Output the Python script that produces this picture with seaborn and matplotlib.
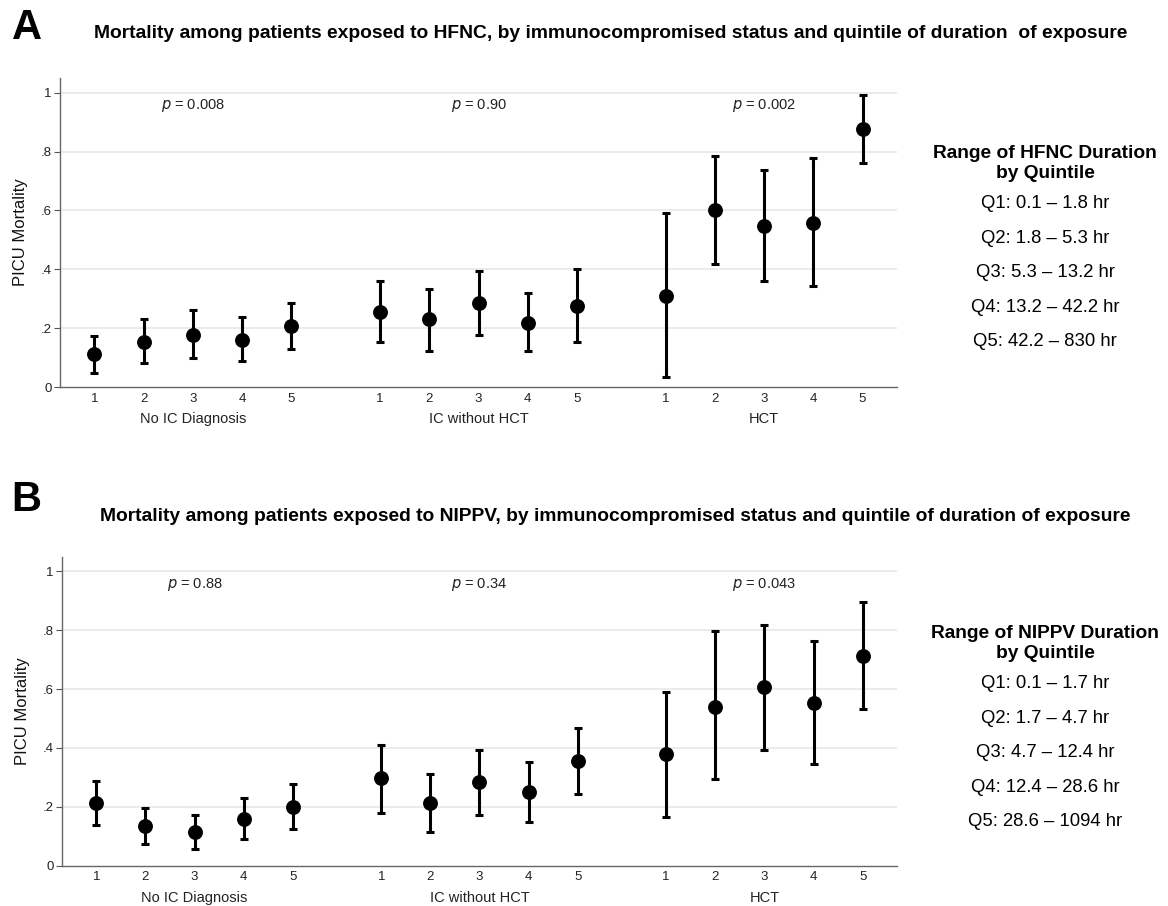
"""
PICU mortality by immunocompromised status and quintile of exposure duration
(HFNC and NIPPV panels)
"""

import matplotlib
matplotlib.use('Agg')
import matplotlib.pyplot as plt
import seaborn as sns
import pandas as pd
import numpy as np

# ---- data ----
quintiles = [1, 2, 3, 4, 5]
groups = ['No IC Diagnosis', 'IC without HCT', 'HCT']

# HFNC (panel A), order: group 1 Q1..Q5, group 2 Q1..Q5, group 3 Q1..Q5
hfnc_mort = [0.112, 0.152, 0.176, 0.161, 0.208,
             0.255, 0.230, 0.286, 0.219, 0.276,
             0.311, 0.600, 0.547, 0.558, 0.876]
hfnc_lo = [0.047, 0.081, 0.098, 0.089, 0.130,
           0.154, 0.122, 0.178, 0.122, 0.154,
           0.033, 0.417, 0.360, 0.342, 0.760]
hfnc_hi = [0.173, 0.230, 0.261, 0.237, 0.286,
           0.360, 0.334, 0.393, 0.320, 0.401,
           0.590, 0.785, 0.738, 0.777, 0.992]
hfnc_p = ['0.008', '0.90', '0.002']
hfnc_ranges = ['Q1: 0.1 \u2013 1.8 hr', 'Q2: 1.8 \u2013 5.3 hr', 'Q3: 5.3 \u2013 13.2 hr',
               'Q4: 13.2 \u2013 42.2 hr', 'Q5: 42.2 \u2013 830 hr']

# NIPPV (panel B)
nippv_mort = [0.213, 0.136, 0.113, 0.157, 0.200,
              0.299, 0.212, 0.284, 0.249, 0.357,
              0.378, 0.541, 0.606, 0.552, 0.714]
nippv_lo = [0.138, 0.074, 0.057, 0.090, 0.123,
            0.180, 0.114, 0.172, 0.147, 0.245,
            0.164, 0.295, 0.393, 0.345, 0.533]
nippv_hi = [0.288, 0.197, 0.172, 0.230, 0.278,
            0.410, 0.311, 0.394, 0.354, 0.467,
            0.590, 0.796, 0.819, 0.764, 0.895]
nippv_p = ['0.88', '0.34', '0.043']
nippv_ranges = ['Q1: 0.1 \u2013 1.7 hr', 'Q2: 1.7 \u2013 4.7 hr', 'Q3: 4.7 \u2013 12.4 hr',
                'Q4: 12.4 \u2013 28.6 hr', 'Q5: 28.6 \u2013 1094 hr']

yticks = [0, 0.2, 0.4, 0.6, 0.8, 1.0]
ytick_labels = ['0', '.2', '.4', '.6', '.8', '1']

GROUP_STEP = 5.8  # spacing between group blocks on the x scale

sns.set_theme(style='white')
plt.rcParams['font.family'] = ['Liberation Sans', 'DejaVu Sans']
plt.rcParams['text.color'] = 'black'
plt.rcParams['axes.labelcolor'] = 'black'


def make_frame(mort, lo, hi):
    rows = []
    for g, name in enumerate(groups):
        for i, q in enumerate(quintiles):
            k = g * len(quintiles) + i
            rows.append({'group': name, 'quintile': q,
                         'x': g * GROUP_STEP + (q - 1),
                         'mort': mort[k], 'lo': lo[k], 'hi': hi[k]})
    return pd.DataFrame(rows)


def draw_panel(ax, df, pvals):
    # gridlines
    for y in yticks[1:]:
        ax.axhline(y, color='#e6e6e6', lw=1.1, zorder=0)

    ax.errorbar(df['x'], df['mort'],
                yerr=[df['mort'] - df['lo'], df['hi'] - df['mort']],
                fmt='none', ecolor='black', elinewidth=2.2,
                capsize=3, capthick=2.2, zorder=2)
    sns.scatterplot(data=df, x='x', y='mort', ax=ax, color='black',
                    s=115, edgecolor='black', linewidth=0, zorder=3, legend=False)

    ax.set_xlim(-0.7, 2 * GROUP_STEP + 4.7)
    ax.set_ylim(0, 1.05)
    ax.set_yticks(yticks)
    ax.set_yticklabels(ytick_labels, fontsize=9.5, color='#222222')
    ax.set_xticks(df['x'])
    ax.set_xticklabels(df['quintile'], fontsize=9.5, color='#222222')
    ax.tick_params(axis='y', length=4, width=0.8, color='#555555', pad=2, direction='out', left=True)
    ax.tick_params(axis='x', length=0, pad=4)
    ax.set_xlabel('')
    ax.set_ylabel('PICU Mortality', fontsize=12, labelpad=9, color='#111111')

    for side in ['top', 'right']:
        ax.spines[side].set_visible(False)
    for side in ['left', 'bottom']:
        ax.spines[side].set_color('#666666')
        ax.spines[side].set_linewidth(1.0)

    trans = ax.get_xaxis_transform()
    for g, name in enumerate(groups):
        cx = g * GROUP_STEP + 2
        ax.text(cx, -0.103, name, transform=trans, ha='center', va='center',
                fontsize=10.5, color='#222222')
        ax.text(cx, 0.955, r'$p$ = ' + pvals[g], ha='center', va='center',
                fontsize=10.5, color='#222222')


def draw_ranges(fig, y_top, device, ranges):
    fig.text(0.895, y_top, f'Range of {device} Duration', ha='center', va='center',
             fontsize=13.8, fontweight='bold')
    fig.text(0.895, y_top - 0.022, 'by Quintile', ha='center', va='center',
             fontsize=13.8, fontweight='bold')
    for i, r in enumerate(ranges):
        fig.text(0.895, y_top - 0.055 - i * 0.038, r, ha='center', va='center',
                 fontsize=13.3)


fig = plt.figure(figsize=(11.68, 9.06), dpi=100)

ax_a = fig.add_axes([0.0514, 0.5728, 0.7166, 0.3411])
ax_b = fig.add_axes([0.0530, 0.0445, 0.7150, 0.3410])

draw_panel(ax_a, make_frame(hfnc_mort, hfnc_lo, hfnc_hi), hfnc_p)
draw_panel(ax_b, make_frame(nippv_mort, nippv_lo, nippv_hi), nippv_p)

fig.text(0.010, 0.969, 'A', fontsize=30, fontweight='bold', ha='left', va='center')
fig.text(0.523, 0.963,
         'Mortality among patients exposed to HFNC, by immunocompromised status and quintile of duration  of exposure',
         fontsize=13.9, fontweight='bold', ha='center', va='center')
fig.text(0.010, 0.448, 'B', fontsize=30, fontweight='bold', ha='left', va='center')
fig.text(0.527, 0.430,
         'Mortality among patients exposed to NIPPV, by immunocompromised status and quintile of duration of exposure',
         fontsize=13.9, fontweight='bold', ha='center', va='center')

draw_ranges(fig, 1 - 154 / 906, 'HFNC', hfnc_ranges)
draw_ranges(fig, 1 - 634 / 906, 'NIPPV', nippv_ranges)

fig.savefig('out.png', dpi=100)
plt.close(fig)
